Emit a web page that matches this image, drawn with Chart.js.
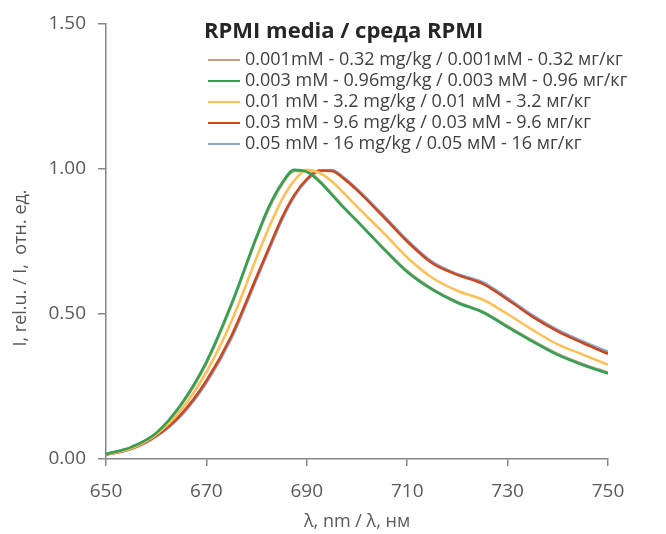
<!DOCTYPE html>
<html>
<head>
<meta charset="utf-8">
<script src="https://cdn.jsdelivr.net/npm/chart.js@4.4.1/dist/chart.umd.min.js"></script>
<style>
  body { margin: 0; background: #fff; }
  #wrap { width: 666px; height: 534px; }
</style>
</head>
<body>
<div id="wrap"><canvas id="chart" width="666" height="534"></canvas></div>
<script>
// wavelength grid, nm
const wavelengths = [650, 655, 660, 665, 670, 675, 680, 682.5, 685, 687.5, 690, 692.5, 695, 697.5, 700, 705, 710, 715, 720, 725, 730, 735, 740, 745, 750];

const seriesLabels = [
  '0.001mM - 0.32 mg/kg / 0.001мМ - 0.32 мг/кг',
  '0.003 mM - 0.96mg/kg / 0.003 мМ - 0.96 мг/кг',
  '0.01 mM - 3.2 mg/kg / 0.01 мМ - 3.2 мг/кг',
  '0.03 mM - 9.6 mg/kg / 0.03 мМ - 9.6 мг/кг',
  '0.05 mM - 16 mg/kg / 0.05 мМ - 16 мг/кг'
];

// relative intensity
const conc0001 = [0.017, 0.040, 0.088, 0.186, 0.330, 0.530, 0.762, 0.866, 0.945, 0.993, 0.993, 0.960, 0.914, 0.866, 0.822, 0.732, 0.648, 0.587, 0.542, 0.508, 0.458, 0.408, 0.362, 0.327, 0.298];
const conc0003 = [0.017, 0.041, 0.090, 0.190, 0.335, 0.535, 0.767, 0.872, 0.950, 0.997, 0.990, 0.957, 0.911, 0.864, 0.820, 0.730, 0.645, 0.584, 0.539, 0.506, 0.455, 0.405, 0.359, 0.324, 0.295];
const conc001 = [0.016, 0.037, 0.085, 0.170, 0.300, 0.475, 0.695, 0.800, 0.893, 0.960, 0.997, 0.987, 0.957, 0.915, 0.870, 0.785, 0.695, 0.625, 0.580, 0.550, 0.500, 0.445, 0.395, 0.360, 0.325];
const conc003 = [0.015, 0.035, 0.080, 0.155, 0.270, 0.425, 0.628, 0.730, 0.830, 0.910, 0.965, 0.995, 0.993, 0.965, 0.927, 0.840, 0.750, 0.675, 0.635, 0.605, 0.550, 0.490, 0.440, 0.400, 0.363];
const conc005 = [0.015, 0.034, 0.077, 0.150, 0.263, 0.417, 0.620, 0.722, 0.822, 0.905, 0.961, 0.993, 0.996, 0.969, 0.931, 0.845, 0.755, 0.680, 0.638, 0.610, 0.555, 0.495, 0.445, 0.405, 0.370];

const seriesValues = [conc0001, conc0003, conc001, conc003, conc005];
const colors = ['#C69C82', '#34A052', '#FFC05A', '#C9481E', '#8EA8D2'];
const drawOrder = [5, 1, 2, 3, 4];

const chartTitle = 'RPMI media / среда RPMI';
const xTitle = 'λ, nm / λ, нм';
const yTitle = 'I, rel.u. / I,  отн. ед.';

const axisGray = '#868686';
const textGray = '#595959';

// legend and chart title sit inside the plot, top middle
const insideLegend = {
  id: 'insideLegend',
  afterDraw(chart) {
    const ctx = chart.ctx;
    ctx.save();
    ctx.fillStyle = '#262626';
    ctx.font = 'bold 22px "Open Sans"';
    ctx.textBaseline = 'alphabetic';
    ctx.textAlign = 'left';
    ctx.fillText(chartTitle, 204, 38);

    ctx.font = '18px "Open Sans"';
    ctx.textBaseline = 'middle';
    chart.data.datasets.forEach((ds, i) => {
      const y = 60 + i * 21;
      ctx.strokeStyle = ds.borderColor;
      ctx.lineWidth = 2;
      ctx.beginPath();
      ctx.moveTo(208, y);
      ctx.lineTo(240, y);
      ctx.stroke();
      ctx.fillStyle = '#404040';
      ctx.fillText(ds.label, 245, y);
    });

    // y axis title
    ctx.translate(21, 268);
    ctx.rotate(-Math.PI / 2);
    ctx.font = '18px "Open Sans"';
    ctx.fillStyle = textGray;
    ctx.textAlign = 'center';
    ctx.fillText(yTitle, 0, 0);
    ctx.restore();
  }
};

function build() {
  const ctx = document.getElementById('chart').getContext('2d');
  new Chart(ctx, {
    type: 'line',
    data: {
      datasets: seriesLabels.map((label, i) => ({
        label: label,
        data: wavelengths.map((w, j) => ({ x: w, y: seriesValues[i][j] })),
        borderColor: colors[i],
        backgroundColor: colors[i],
        borderWidth: 2.6,
        pointRadius: 0,
        cubicInterpolationMode: 'monotone',
        order: drawOrder[i]
      }))
    },
    options: {
      responsive: false,
      animation: false,
      layout: { padding: { left: 0, right: 58, top: 24, bottom: 0 } },
      plugins: {
        legend: { display: false },
        tooltip: { enabled: false }
      },
      scales: {
        x: {
          type: 'linear',
          min: 650,
          max: 750,
          afterFit(scale) { scale.height = 75; },
          ticks: {
            stepSize: 20,
            padding: 14,
            color: textGray,
            font: { family: 'Open Sans', size: 19 }
          },
          grid: { drawOnChartArea: false, drawTicks: true, tickLength: 7, color: axisGray, lineWidth: 1.5 },
          border: { color: axisGray, width: 1.5 },
          title: {
            display: true,
            text: xTitle,
            color: textGray,
            font: { family: 'Open Sans', size: 18 },
            padding: { top: 0, bottom: 1 }
          }
        },
        y: {
          min: 0,
          max: 1.5,
          afterFit(scale) { scale.width = 106; },
          ticks: {
            stepSize: 0.5,
            padding: 12,
            color: textGray,
            font: { family: 'Open Sans', size: 19 },
            callback: (v) => v.toFixed(2)
          },
          grid: { drawOnChartArea: false, drawTicks: true, tickLength: 8, color: axisGray, lineWidth: 1.5 },
          border: { color: axisGray, width: 1.5 }
        }
      }
    },
    plugins: [insideLegend]
  });
}

if (document.fonts && document.fonts.load) {
  Promise.all([
    document.fonts.load('18px "Open Sans"'),
    document.fonts.load('bold 22px "Open Sans"')
  ]).then(build, build);
} else {
  build();
}
</script>
</body>
</html>
